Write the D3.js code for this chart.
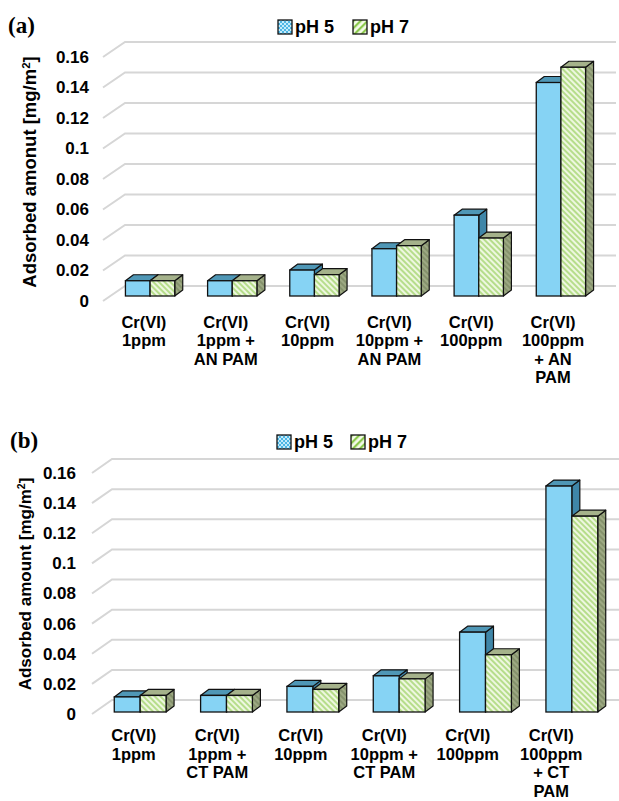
<!DOCTYPE html>
<html lang="en">
<head>
<meta charset="UTF-8">
<title>Cr(VI) adsorbed amount</title>
<script src="https://d3js.org/d3.v7.min.js"></script>
<style>
  body { margin: 0; background: #fff; }
  svg { display: block; font-family: "Liberation Sans", Arial, sans-serif; }
</style>
</head>
<body>
<div id="chart"></div>
<script>
// data
const seriesNames = ["pH 5", "pH 7"];
const categoriesA = ["Cr(VI)\n1ppm", "Cr(VI)\n1ppm +\nAN PAM", "Cr(VI)\n10ppm",
                     "Cr(VI)\n10ppm +\nAN PAM", "Cr(VI)\n100ppm", "Cr(VI)\n100ppm\n+ AN\nPAM"];
const categoriesB = ["Cr(VI)\n1ppm", "Cr(VI)\n1ppm +\nCT PAM", "Cr(VI)\n10ppm",
                     "Cr(VI)\n10ppm +\nCT PAM", "Cr(VI)\n100ppm", "Cr(VI)\n100ppm\n+ CT\nPAM"];
const ph5A = [0.010, 0.010, 0.017, 0.031, 0.053, 0.140];
const ph7A = [0.010, 0.010, 0.014, 0.033, 0.038, 0.150];
const ph5B = [0.010, 0.011, 0.017, 0.024, 0.053, 0.150];
const ph7B = [0.011, 0.011, 0.015, 0.022, 0.038, 0.130];
const yTicks = [0, 0.02, 0.04, 0.06, 0.08, 0.1, 0.12, 0.14, 0.16];
const yTickLabels = ["0", "0.02", "0.04", "0.06", "0.08", "0.1", "0.12", "0.14", "0.16"];

const svg = d3.select("#chart").append("svg")
    .attr("width", 619)
    .attr("height", 801);

// patterns
const defs = svg.append("defs");
function stripes(id, size, angle, bg, fg, w) {
    const p = defs.append("pattern").attr("id", id)
        .attr("patternUnits", "userSpaceOnUse")
        .attr("width", size).attr("height", size)
        .attr("patternTransform", `rotate(${angle})`);
    p.append("rect").attr("width", size).attr("height", size).attr("fill", bg);
    p.append("line").attr("x1", 1).attr("x2", 1).attr("y1", 0).attr("y2", size)
        .attr("stroke", fg).attr("stroke-width", w);
}
stripes("ph7Front", 4, -45, "#eef7e0", "#acd97c", 1.7);
stripes("ph7Side", 4, -45, "#9da983", "#7d8a64", 1.5);
stripes("ph7Legend", 5, 45, "#f3fae8", "#8cc94e", 2.4);
const chk = defs.append("pattern").attr("id", "ph5Legend")
    .attr("patternUnits", "userSpaceOnUse").attr("width", 4).attr("height", 4);
chk.append("rect").attr("width", 4).attr("height", 4).attr("fill", "#c4ebfb");
chk.append("rect").attr("width", 2).attr("height", 2).attr("fill", "#4db6e4");
chk.append("rect").attr("x", 2).attr("y", 2).attr("width", 2).attr("height", 2).attr("fill", "#4db6e4");

const faces = {
    "pH 5": { front: "#86d3f4", top: "#4f97b6", side: "#3f86a8", legend: "url(#ph5Legend)" },
    "pH 7": { front: "url(#ph7Front)", top: "#a5b28b", side: "url(#ph7Side)", legend: "url(#ph7Legend)" }
};

function drawPanel(p) {
    const g = svg.append("g");
    const n = p.categories.length;

    const yBack = d3.scaleLinear().domain([0, 0.16]).range([p.backZero, p.backTop]);
    const yBar = d3.scaleLinear().domain([0, 0.16])
        .range([p.barZero, p.barZero - (p.backZero - p.backTop)]);
    const xLabel = d3.scaleBand().domain(p.categories).range(p.labelRange);
    const xBar = d3.scaleBand().domain(p.categories).range(p.barRange)
        .paddingInner(0.4).paddingOuter(0.2);
    const xSub = d3.scaleBand().domain(seriesNames).range([0, xBar.bandwidth()]);

    // floor/wall gridlines
    g.selectAll("polyline.grid").data(yTicks).join("polyline")
        .attr("class", "grid")
        .attr("points", d => `${p.frontX},${yBack(d) + p.wallDy} ${p.backX},${yBack(d)} ${p.rightX},${yBack(d)}`)
        .attr("fill", "none")
        .attr("stroke", "#d6d6d6")
        .attr("stroke-width", 2);

    g.selectAll("text.tick").data(yTicks).join("text")
        .attr("class", "tick")
        .attr("x", p.tickX)
        .attr("y", d => yBack(d) + p.wallDy)
        .attr("dy", "0.35em")
        .attr("text-anchor", "end")
        .attr("font-size", 17)
        .attr("font-weight", "bold")
        .text((d, i) => yTickLabels[i]);

    // 3d bars
    const dx = 8, dy = -6;
    const rows = [];
    p.categories.forEach((c, i) => {
        rows.push({ cat: c, s: "pH 5", v: p.ph5[i] });
        rows.push({ cat: c, s: "pH 7", v: p.ph7[i] });
    });
    const bars = g.selectAll("g.bar").data(rows).join("g").attr("class", "bar");
    bars.each(function (d) {
        const b = d3.select(this);
        const x = xBar(d.cat) + xSub(d.s);
        const w = xSub.bandwidth();
        const y = yBar(d.v);
        const y0 = yBar(0);
        const f = faces[d.s];
        b.append("polygon")
            .attr("points", `${x + w},${y0} ${x + w + dx},${y0 + dy} ${x + w + dx},${y + dy} ${x + w},${y}`)
            .attr("fill", f.side).attr("stroke", "#111").attr("stroke-width", 1.2)
            .attr("stroke-linejoin", "round");
        b.append("polygon")
            .attr("points", `${x},${y} ${x + dx},${y + dy} ${x + w + dx},${y + dy} ${x + w},${y}`)
            .attr("fill", f.top).attr("stroke", "#111").attr("stroke-width", 1.2)
            .attr("stroke-linejoin", "round");
        b.append("rect")
            .attr("x", x).attr("y", y)
            .attr("width", w).attr("height", y0 - y)
            .attr("fill", f.front).attr("stroke", "#111").attr("stroke-width", 1.3);
    });

    // category labels
    const lab = g.selectAll("text.cat").data(p.categories).join("text")
        .attr("class", "cat")
        .attr("text-anchor", "middle")
        .attr("font-size", 16.5)
        .attr("font-weight", "bold");
    lab.selectAll("tspan").data(d => d.split("\n").map(t => ({ t, c: d }))).join("tspan")
        .attr("x", d => xLabel(d.c) + xLabel.bandwidth() / 2)
        .attr("y", (d, i) => p.labelY + i * p.lineH)
        .text(d => d.t);

    // legend
    const leg = g.selectAll("g.leg").data(seriesNames).join("g").attr("class", "leg")
        .attr("transform", (d, i) => `translate(${p.legendX[i]},${p.legendY})`);
    leg.append("rect").attr("x", 0).attr("y", -7).attr("width", 14).attr("height", 14)
        .attr("fill", d => faces[d].legend).attr("stroke", "#111").attr("stroke-width", 1.3);
    leg.append("text").attr("x", 17).attr("dy", "0.36em")
        .attr("font-size", 18).attr("font-weight", "bold").text(d => d);

    // panel letter
    g.append("text").attr("x", p.letterX).attr("y", p.letterY)
        .attr("font-family", "'Liberation Serif', 'Times New Roman', serif")
        .attr("font-size", 23).attr("font-weight", "bold")
        .text(p.letter);

    // y title
    const t = g.append("text")
        .attr("transform", `translate(${p.titleX},${p.titleY}) rotate(-90)`)
        .attr("text-anchor", "middle")
        .attr("dy", "0.35em")
        .attr("font-size", p.titleSize)
        .attr("font-weight", "bold");
    t.append("tspan").text(p.title + " [mg/m");
    t.append("tspan").attr("font-size", p.titleSize * 0.62).attr("dy", "-0.55em").text("2");
    t.append("tspan").attr("dy", "0.34em").text("]");
}

drawPanel({
    letter: "(a)", letterX: 8, letterY: 33,
    categories: categoriesA, ph5: ph5A, ph7: ph7A,
    backZero: 286, backTop: 42, barZero: 296,
    frontX: 103, backX: 125, rightX: 616, wallDy: 15,
    tickX: 89,
    barRange: [109, 602], labelRange: [103, 594],
    labelY: 328, lineH: 18.3,
    legendX: [278, 353], legendY: 27,
    title: "Adsorbed amonut", titleX: 30, titleY: 172, titleSize: 18.5
});

drawPanel({
    letter: "(b)", letterX: 10, letterY: 448,
    categories: categoriesB, ph5: ph5B, ph7: ph7B,
    backZero: 700, backTop: 459, barZero: 712,
    frontX: 92, backX: 112, rightX: 619, wallDy: 14,
    tickX: 76,
    barRange: [97, 615], labelRange: [92, 593],
    labelY: 741, lineH: 18.5,
    legendX: [277, 351], legendY: 442,
    title: "Adsorbed amount", titleX: 25, titleY: 584, titleSize: 17
});
</script>
</body>
</html>
